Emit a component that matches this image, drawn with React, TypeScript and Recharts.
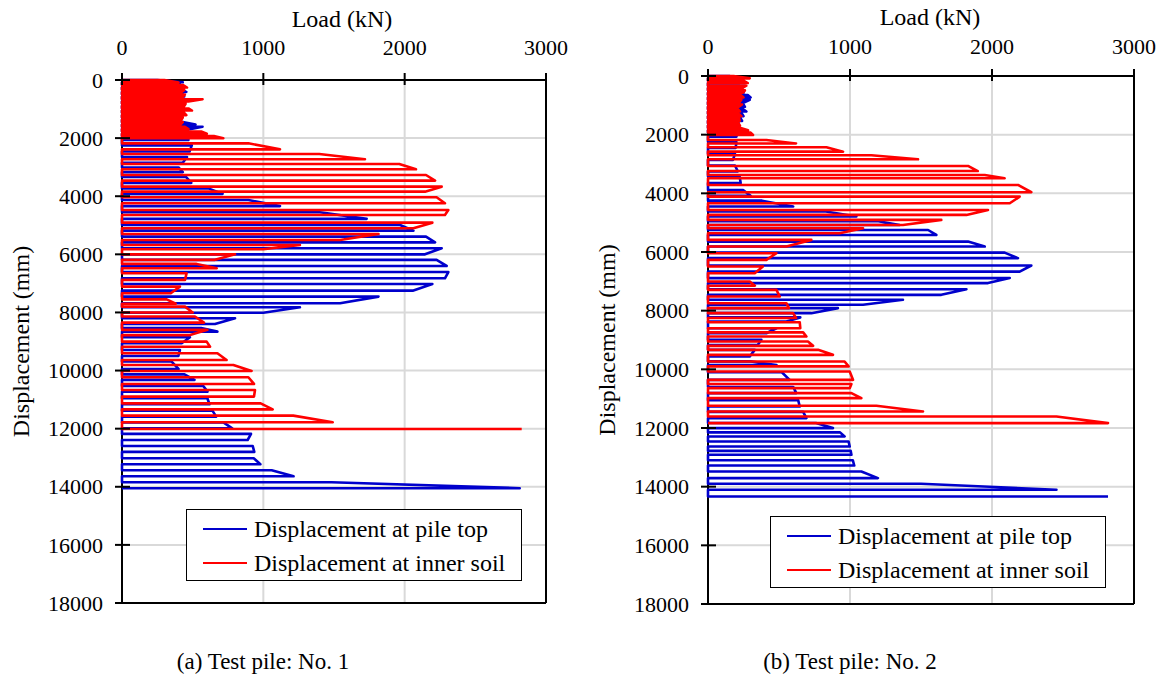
/* Load–displacement curves of two test piles, drawn with Recharts scatter lines */

import React from 'react';
import { ScatterChart, Scatter, XAxis, YAxis, CartesianGrid, ReferenceLine } from 'recharts';

const BLUE = '#0000cc';
const RED = '#ff0000';
const FONT = 'Liberation Serif';

const loadTicks = [0, 1000, 2000, 3000];
const dispTicks = [0, 2000, 4000, 6000, 8000, 10000, 12000, 14000, 16000, 18000];

const seriesNames = ['Displacement at pile top', 'Displacement at inner soil'];
const captions = ['(a) Test pile: No. 1', '(b) Test pile: No. 2'];

// one entry per horizontal stroke line: [displacement (mm), load at its tip (kN)]
const pile1Top: [number, number][] = [
  [0, 250], [80, 430], [160, 410], [250, 440], [330, 420], [410, 455], [490, 430], [570, 440],
  [650, 420], [730, 455], [810, 440], [890, 420], [970, 430], [1050, 410], [1130, 420], [1210, 430],
  [1290, 400], [1370, 410], [1450, 430], [1530, 520], [1610, 570], [1690, 480], [1770, 440], [1850, 430],
  [1930, 450], [2060, 470], [2250, 494], [2460, 478], [2650, 460], [2850, 430], [3010, 400], [3170, 430],
  [3340, 454], [3540, 490], [3730, 611], [3920, 712], [4130, 894], [4340, 1118], [4550, 1401], [4780, 1731],
  [4990, 1967], [5185, 2062], [5390, 2151], [5590, 2215], [5790, 2262], [6000, 2144], [6190, 2226], [6400, 2297],
  [6610, 2309], [6825, 2285], [7020, 2196], [7250, 2057], [7455, 1815], [7685, 1543], [7820, 1259], [8010, 1000],
  [8200, 800], [8400, 658], [8540, 560], [8660, 675], [8855, 481], [9060, 422], [9290, 410], [9500, 399],
  [9690, 351], [9945, 400], [10130, 442], [10320, 513], [10530, 575], [10725, 605], [10955, 604], [11160, 619],
  [11380, 640], [11585, 666], [11790, 720], [11990, 780], [12180, 913], [12390, 889], [12595, 925], [12800, 936],
  [13020, 932], [13225, 979], [13430, 1059], [13640, 1214], [13845, 1482], [14050, 2814],
];

const pile1Soil: [number, number][] = [
  [0, 300], [90, 400], [170, 430], [260, 460], [340, 440], [420, 420], [500, 445], [580, 430],
  [660, 570], [740, 470], [820, 450], [900, 440], [980, 470], [1050, 495], [1130, 440], [1210, 455],
  [1290, 430], [1370, 420], [1450, 430], [1530, 415], [1610, 445], [1690, 470], [1770, 560], [1850, 600],
  [1930, 650], [2007, 717], [2180, 894], [2386, 1118], [2547, 1396], [2730, 1719], [2891, 1962], [3074, 2080],
  [3269, 2151], [3464, 2215], [3670, 2262], [3842, 2144], [4037, 2226], [4243, 2285], [4474, 2309], [4646, 2285],
  [4910, 2196], [5104, 2062], [5300, 1815], [5506, 1543], [5678, 1259], [5826, 1000], [6000, 800], [6190, 658],
  [6330, 528], [6480, 670], [6650, 457], [6880, 446], [7110, 410], [7340, 345], [7550, 316], [7700, 380],
  [7800, 446], [8000, 500], [8140, 516], [8350, 580], [8600, 604], [8780, 481], [9005, 599], [9180, 623],
  [9405, 675], [9635, 740], [9810, 788], [10014, 917], [10231, 894], [10461, 934], [10668, 941], [10898, 934],
  [11128, 981], [11335, 1066], [11552, 1212], [11780, 1491], [12010, 2828],
];

const pile2Top: [number, number][] = [
  [0, 150], [80, 200], [160, 230], [240, 220], [330, 260], [410, 240], [490, 230], [570, 250],
  [650, 280], [730, 300], [810, 294], [890, 260], [970, 250], [1050, 260], [1130, 247], [1210, 270],
  [1290, 240], [1370, 250], [1450, 230], [1530, 240], [1610, 215], [1690, 200], [1770, 210], [1850, 200],
  [1930, 205], [2070, 200], [2250, 200], [2450, 195], [2650, 190], [2860, 176], [3050, 190], [3250, 210],
  [3430, 223], [3650, 230], [3885, 247], [4080, 300], [4250, 380], [4450, 600], [4620, 830], [4790, 1045],
  [4950, 1200], [5080, 1350], [5250, 1550], [5420, 1608], [5645, 1831], [5815, 1949], [6020, 2089], [6210, 2183],
  [6460, 2277], [6670, 2195], [6890, 2125], [7060, 1972], [7270, 1820], [7460, 1643], [7630, 1373], [7800, 1092],
  [7915, 915], [8085, 728], [8230, 650], [8370, 552], [8600, 482], [8770, 411], [8995, 376], [9170, 350],
  [9336, 329], [9563, 294], [9730, 300], [9850, 482], [10100, 520], [10358, 575], [10600, 600], [10811, 622],
  [11050, 635], [11267, 646], [11450, 670], [11663, 693], [11830, 760], [12004, 880], [12150, 930], [12289, 962],
  [12460, 990], [12630, 998], [12780, 1005], [12913, 1010], [13100, 1020], [13280, 1030], [13482, 1080], [13709, 1197],
  [13900, 1500], [14106, 2454], [14334, 2817],
];

const pile2Soil: [number, number][] = [
  [0, 180], [80, 294], [160, 250], [240, 280], [330, 270], [410, 240], [490, 260], [570, 247],
  [650, 230], [730, 250], [810, 235], [890, 223], [970, 240], [1050, 215], [1130, 211], [1210, 225],
  [1290, 215], [1370, 235], [1450, 220], [1530, 223], [1610, 215], [1690, 225], [1770, 230], [1850, 282],
  [1930, 300], [2011, 317], [2181, 411], [2300, 620], [2431, 834], [2579, 951], [2700, 1150], [2840, 1479],
  [3066, 1831], [3240, 1900], [3373, 1949], [3486, 2089], [3714, 2183], [3963, 2277], [4112, 2195], [4338, 2125],
  [4566, 1972], [4736, 1820], [4906, 1643], [5077, 1373], [5190, 1092], [5360, 927], [5588, 728], [5815, 552],
  [6042, 482], [6269, 411], [6496, 387], [6723, 329], [7007, 294], [7150, 330], [7291, 482], [7518, 505],
  [7745, 552], [7915, 570], [8085, 599], [8250, 620], [8394, 646], [8599, 650], [8740, 670], [8882, 693],
  [9053, 704], [9200, 740], [9336, 775], [9506, 880], [9734, 962], [9900, 990], [10074, 998], [10358, 1021],
  [10500, 1010], [10641, 998], [10810, 1010], [10981, 1080], [11244, 1186], [11437, 1514], [11607, 2454], [11834, 2817],
];

type Pt = { load: number; disp: number };

/* strokes alternate: out from zero to the tip, then back from the tip to zero */
function toPath(lines: [number, number][]): Pt[] {
  const pts: Pt[] = [];
  lines.forEach(([disp, load], i) => {
    if (i % 2 === 0) pts.push({ load: 0, disp }, { load, disp });
    else pts.push({ load, disp }, { load: 0, disp });
  });
  return pts;
}

const noDot = () => <g />;

const AXIS_X = 122;

function Panel({ left, width, margin, axisY, tickY, titleOffset, titleDx, top, soil }: any) {
  const XTick = (p: any) => (
    <g>
      <line x1={p.x} x2={p.x} y1={axisY - 7} y2={axisY + 5} stroke="#000" strokeWidth={2} />
      <text x={p.x} y={tickY} textAnchor="middle" fontSize={22} fontFamily={FONT} fill="#000">
        {p.payload.value}
      </text>
    </g>
  );
  const YTick = (p: any) => (
    <g>
      <line x1={AXIS_X - 7} x2={AXIS_X + 8} y1={p.y} y2={p.y} stroke="#000" strokeWidth={2} />
      <text x={AXIS_X - 19} y={p.y} dy="0.35em" textAnchor="end" fontSize={22} fontFamily={FONT} fill="#000">
        {p.payload.value}
      </text>
    </g>
  );

  return (
    <div style={{ position: 'absolute', left, top: 0 }}>
      <ScatterChart width={width} height={640} margin={margin}>
        <CartesianGrid stroke="#d9d9d9" strokeWidth={2} />
        <Scatter
          data={toPath(top)}
          fill={BLUE}
          shape={noDot}
          line={{ stroke: BLUE, strokeWidth: 2.6, strokeLinejoin: 'round' }}
          isAnimationActive={false}
        />
        <Scatter
          data={toPath(soil)}
          fill={RED}
          shape={noDot}
          line={{ stroke: RED, strokeWidth: 2.6, strokeLinejoin: 'round' }}
          isAnimationActive={false}
        />
        <ReferenceLine x={3000} stroke="#000" strokeWidth={2} />
        <ReferenceLine y={18000} stroke="#000" strokeWidth={2} />
        <XAxis
          type="number"
          dataKey="load"
          orientation="top"
          domain={[0, 3000]}
          ticks={loadTicks}
          height={30}
          tickLine={false}
          axisLine={{ stroke: '#000', strokeWidth: 2 }}
          tick={XTick}
          label={{
            value: 'Load (kN)', position: 'top', offset: titleOffset, dx: titleDx,
            fontSize: 24, fontFamily: FONT, fill: '#000',
          }}
        />
        <YAxis
          type="number"
          dataKey="disp"
          reversed
          domain={[0, 18000]}
          ticks={dispTicks}
          width={117}
          tickLine={false}
          axisLine={{ stroke: '#000', strokeWidth: 2 }}
          tick={YTick}
          label={{
            value: 'Displacement (mm)', angle: -90, position: 'insideLeft', offset: 15,
            fontSize: 24, fontFamily: FONT, fill: '#000', style: { textAnchor: 'middle' },
          }}
        />
      </ScatterChart>
    </div>
  );
}

function LegendBox({ left, top }: { left: number; top: number }) {
  const colors = [BLUE, RED];
  return (
    <div
      style={{
        position: 'absolute', left, top, width: 336, height: 72, boxSizing: 'border-box',
        border: '1.5px solid #000', background: '#fff', paddingTop: 2,
      }}
    >
      {seriesNames.map((name, i) => (
        <div key={name} style={{ display: 'flex', alignItems: 'center', height: 34 }}>
          <span style={{ display: 'inline-block', marginLeft: 16, width: 44, height: 2, background: colors[i] }} />
          <span style={{ marginLeft: 7, fontSize: 24, fontFamily: FONT, lineHeight: '34px', whiteSpace: 'nowrap' }}>
            {name}
          </span>
        </div>
      ))}
    </div>
  );
}

export default function App() {
  return (
    <div
      style={{
        position: 'absolute', left: 0, top: 0, width: 1166, height: 678,
        background: '#fff', overflow: 'hidden', fontFamily: FONT,
      }}
    >
      <Panel
        left={0}
        width={600}
        margin={{ top: 50, right: 54, bottom: 37, left: 5 }}
        axisY={80}
        tickY={55}
        titleOffset={23}
        titleDx={8}
        top={pile1Top}
        soil={pile1Soil}
      />
      <Panel
        left={586}
        width={580}
        margin={{ top: 46, right: 32, bottom: 36, left: 5 }}
        axisY={76}
        tickY={54}
        titleOffset={21}
        titleDx={9}
        top={pile2Top}
        soil={pile2Soil}
      />
      <LegendBox left={186} top={509} />
      <LegendBox left={770} top={516} />
      {captions.map((c, i) => (
        <div
          key={c}
          style={{
            position: 'absolute', left: i === 0 ? 113 : 700, top: 648, width: 300, textAlign: 'center',
            fontSize: 23, fontFamily: FONT, lineHeight: '28px',
          }}
        >
          {c}
        </div>
      ))}
    </div>
  );
}
